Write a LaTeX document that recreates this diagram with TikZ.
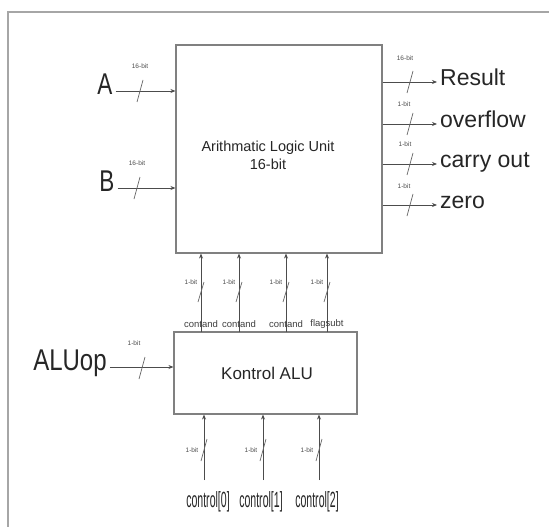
\documentclass[tikz,border=0pt]{standalone}
\usepackage{fontspec}
\usepackage{graphicx}
\setmainfont{Liberation Sans}
\usetikzlibrary{arrows.meta}
\newcommand\condtxt[2]{\scalebox{#1}[1]{#2}}
\begin{document}
\begin{tikzpicture}[x=1pt,y=-1pt,
  box/.style={draw=black!50, line width=1.1pt, inner sep=0pt},
  arr/.style={draw=black!70, line width=0.8pt, -{Stealth[length=5pt,width=4pt]}},
  bw/.style={font=\fontsize{6.5}{7}\selectfont, text=black!70, inner sep=0.5pt},
  slash/.style={draw=black!60, line width=0.7pt},
  big/.style={text=black!85, inner sep=3pt, text height=0.72em, text depth=0pt},
  cw/.style={font=\fontsize{9.5}{10}\selectfont, text=black!75, inner sep=0pt},
]
\useasboundingbox (0,0) rectangle (549,527);
\fill[white] (0,0) rectangle (549,527);
\draw[black!35, line width=1.2pt] (8,527) -- (8,12) -- (549,12);

% main blocks
\node[box, minimum width=206pt, minimum height=208pt] (alu) at (279,149) {};
\node[align=center, font=\fontsize{14.5}{18}\selectfont, text=black!85] (alutxt) at (268,155) {Arithmatic Logic Unit\\16-bit};
\node[box, minimum width=183pt, minimum height=82pt] (ctl) at (265.5,373) {};
\node[font=\fontsize{17}{18}\selectfont, text=black!85] (ctltxt) at (267,373) {Kontrol ALU};

% inputs
\node[big, font=\fontsize{30}{32}\selectfont] (A) at (105,91) {\condtxt{0.75}{A}};
\node[big, font=\fontsize{30}{32}\selectfont] (B) at (107,188) {\condtxt{0.75}{B}};
\node[big, font=\fontsize{30}{32}\selectfont] (op) at (70,367) {\condtxt{0.8}{ALUop}};
\draw[arr] (A.east) -- (A.east -| alu.west);
\draw[arr] (B.east) -- (B.east -| alu.west);
\draw[arr] (op.east) -- (op.east -| ctl.west);
\draw[slash] (137,102) -- (143,80);
\node[bw] (lA) at (140,66) {16-bit};
\draw[slash] (134,199) -- (140,177);
\node[bw] (lB) at (137,163) {16-bit};
\draw[slash] (139,379) -- (145,357);
\node[bw] (lop) at (134,343) {1-bit};

% outputs
\node[big, anchor=west, font=\fontsize{23}{25}\selectfont] (res) at (437,82) {Result};
\node[big, anchor=west, font=\fontsize{23}{25}\selectfont] (ovf) at (437,124) {overflow};
\node[big, anchor=west, font=\fontsize{23}{25}\selectfont] (cry) at (437,164) {carry out};
\node[big, anchor=west, font=\fontsize{23}{25}\selectfont] (zer) at (437,205) {zero};
\foreach \n/\y in {res/82, ovf/124, cry/164, zer/205}{
  \draw[arr] (alu.east |- \n.west) -- (\n.west);
  \draw[slash] (407,\y+11) -- (413,\y-11);
}
\node[bw] (lres) at (405,58) {16-bit};
\node[bw] (lovf) at (404,104) {1-bit};
\node[bw] (lcry) at (405,144) {1-bit};
\node[bw] (lzer) at (404,186) {1-bit};

% control -> ALU
\foreach \x/\t [count=\i] in {201/contand, 239/contand, 286/contand, 327/flagsubt}{
  \coordinate (up\i) at (\x,332);
  \draw[arr] (up\i) -- (up\i |- alu.south);
  \draw[slash] (\x-3,302) -- (\x+3,282);
  \node[bw, anchor=east] (lu\i) at (\x-3,282) {1-bit};
  \node[cw] (cu\i) at (\x,324) {\t};
}

% control inputs
\foreach \x/\c/\t [count=\i] in {204/208/control[0], 263/261/control[1], 319/317/control[2]}{
  \coordinate (dn\i) at (\x,480);
  \node[font=\fontsize{22}{24}\selectfont, text=black!85, inner sep=0pt] (cl\i) at (\c,502) {\condtxt{0.48}{\t}};
  \draw[arr] (dn\i) -- (dn\i |- ctl.south);
  \draw[slash] (\x-3,461) -- (\x+3,439);
  \node[bw, anchor=east] (ld\i) at (\x-5,450) {1-bit};
}
\end{tikzpicture}
\end{document}
